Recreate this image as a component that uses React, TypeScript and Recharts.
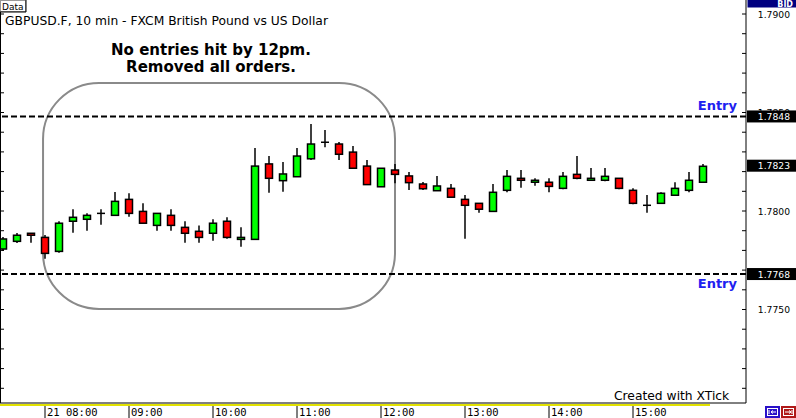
import React from 'react';
import { ComposedChart, Bar, XAxis, YAxis, ReferenceLine, ReferenceArea } from 'recharts';

// 10 minute candles, GBPUSD 21st
const TIMES = [
  '07:30', '07:40', '07:50', '08:00', '08:10', '08:20', '08:30', '08:40', '08:50',
  '09:00', '09:10', '09:20', '09:30', '09:40', '09:50',
  '10:00', '10:10', '10:20', '10:30', '10:40', '10:50',
  '11:00', '11:10', '11:20', '11:30', '11:40', '11:50',
  '12:00', '12:10', '12:20', '12:30', '12:40', '12:50',
  '13:00', '13:10', '13:20', '13:30', '13:40', '13:50',
  '14:00', '14:10', '14:20', '14:30', '14:40', '14:50',
  '15:00', '15:10', '15:20', '15:30', '15:40', '15:50',
];
const OPEN = [
  1.77807, 1.77846, 1.77887, 1.77866, 1.77795, 1.77948, 1.77958, 1.77988, 1.77978,
  1.78059, 1.77998, 1.77927, 1.77978, 1.77917, 1.77897,
  1.77887, 1.77948, 1.77856, 1.77856, 1.78239, 1.78154,
  1.78174, 1.78265, 1.78349, 1.7834, 1.78299, 1.78228,
  1.78123, 1.78208, 1.78178, 1.78137, 1.78103, 1.78115,
  1.78059, 1.78039, 1.77998, 1.78105, 1.78166, 1.78146,
  1.78146, 1.78115, 1.78186, 1.78156, 1.78156, 1.78166,
  1.78105, 1.78029, 1.78039, 1.7808, 1.78105, 1.78146,
];
const HIGH = [
  1.77868, 1.77888, 1.77887, 1.77878, 1.77948, 1.78009, 1.77988, 1.78009, 1.78096,
  1.7809, 1.78039, 1.77988, 1.78009, 1.77948, 1.77927,
  1.77958, 1.77968, 1.77917, 1.7832, 1.78279, 1.78249,
  1.7832, 1.78442, 1.78411, 1.7835, 1.7833, 1.78259,
  1.78217, 1.78239, 1.78198, 1.78147, 1.78178, 1.78137,
  1.78081, 1.78039, 1.78137, 1.78208, 1.78208, 1.78166,
  1.78166, 1.78198, 1.78279, 1.78218, 1.78218, 1.78166,
  1.78115, 1.78081, 1.78095, 1.78146, 1.78198, 1.78239,
];
const LOW = [
  1.77797, 1.77838, 1.77839, 1.77758, 1.77788, 1.7789, 1.779, 1.7793, 1.77978,
  1.77971, 1.77938, 1.779, 1.779, 1.77839, 1.77839,
  1.77849, 1.77859, 1.77819, 1.77856, 1.78093, 1.78098,
  1.78174, 1.78259, 1.78323, 1.78259, 1.78217, 1.78134,
  1.78123, 1.78141, 1.78107, 1.78107, 1.78103, 1.7807,
  1.77859, 1.77991, 1.77998, 1.78095, 1.78118, 1.78128,
  1.78095, 1.7811, 1.78161, 1.78156, 1.78151, 1.7811,
  1.78034, 1.77991, 1.78039, 1.7808, 1.78095, 1.78146,
];
const CLOSE = [
  1.77858, 1.77877, 1.77877, 1.77785, 1.77938, 1.77968, 1.77978, 1.77988, 1.78049,
  1.77988, 1.77938, 1.77988, 1.77927, 1.77887, 1.77866,
  1.77938, 1.77866, 1.77866, 1.78228, 1.78166, 1.78188,
  1.78279, 1.7834, 1.78349, 1.78288, 1.78217, 1.78134,
  1.78217, 1.78186, 1.78144, 1.78113, 1.78127, 1.7807,
  1.78029, 1.78009, 1.78095, 1.78176, 1.78156, 1.78156,
  1.78125, 1.78176, 1.78166, 1.78166, 1.78176, 1.78115,
  1.78039, 1.78029, 1.7809, 1.78115, 1.78156, 1.78227,
];

const HOUR_TICKS = [480, 540, 600, 660, 720, 780, 840, 900];
const HOUR_LABELS = ['21 08:00', '09:00', '10:00', '11:00', '12:00', '13:00', '14:00', '15:00'];

const PRICE_TICKS = [
  1.771, 1.772, 1.773, 1.774, 1.775, 1.776, 1.777, 1.778, 1.779, 1.78,
  1.781, 1.782, 1.783, 1.784, 1.785, 1.786, 1.787, 1.788, 1.789, 1.79,
];
const ENTRY_HIGH = 1.7848;
const ENTRY_LOW = 1.7768;
const LAST_PRICE = 1.7823;
const PRICE_TAGS = [ENTRY_HIGH, LAST_PRICE, ENTRY_LOW];

const toMinutes = (t: string) => {
  const [h, m] = t.split(':').map(Number);
  return h * 60 + m;
};

const candles = TIMES.map((t, i) => ({
  t: toMinutes(t),
  open: OPEN[i],
  high: HIGH[i],
  low: LOW[i],
  close: CLOSE[i],
}));

const W = 796;
const H = 418;
const AXIS_W = 50;
const AXIS_X = W - AXIS_W;
const UP = '#00ff00';
const DOWN = '#ff0000';
const ENTRY_BLUE = '#2020f0';

const Candle = (props: any) => {
  const { x, y, width, height, payload } = props;
  if (x == null || y == null) return null;
  const { open, close, high, low } = payload;
  const top = Math.min(y, y + height);
  const h = Math.abs(height);
  const k = h / (high - low);
  const cx = x + width / 2;
  const yO = top + (high - open) * k;
  const yC = top + (high - close) * k;
  const bodyTop = Math.min(yO, yC);
  const bodyH = Math.abs(yO - yC);
  const fill = close > open ? UP : DOWN;
  return (
    <g>
      <line x1={cx} x2={cx} y1={top} y2={top + h} stroke="#000" strokeWidth={1.5} />
      {bodyH < 0.5 ? (
        <line x1={cx - 4} x2={cx + 4} y1={yO} y2={yO} stroke="#000" strokeWidth={1.5} />
      ) : (
        <rect x={cx - 3.5} y={bodyTop} width={7} height={bodyH} fill={fill} stroke="#000" strokeWidth={1.5} />
      )}
    </g>
  );
};

const TimeTick = (props: any) => {
  const { x, y, payload } = props;
  const idx = HOUR_TICKS.indexOf(payload.value);
  return (
    <g>
      <line x1={x} x2={x} y1={y + 2} y2={H} stroke="#000" />
      <text x={x + 2} y={y + 13} fontSize={10.5} fontFamily="DejaVu Sans Mono" fill="#000">
        {HOUR_LABELS[idx]}
      </text>
    </g>
  );
};

const PriceTick = (props: any) => {
  const { y, payload } = props;
  const v: number = payload.value;
  if (PRICE_TAGS.includes(v)) {
    return (
      <g>
        <rect x={AXIS_X + 1} y={y - 6} width={AXIS_W} height={12} fill="#000" />
        <text x={790} y={y + 3.5} textAnchor="end" fontSize={9.2} fontFamily="DejaVu Sans" fill="#fff">
          {v.toFixed(4)}
        </text>
      </g>
    );
  }
  const labeled = Math.round(v * 10000) % 50 === 0;
  return (
    <g>
      <line x1={AXIS_X - 4} x2={AXIS_X} y1={y} y2={y} stroke="#000" />
      <line x1={0} x2={4} y1={y} y2={y} stroke="#000" />
      {labeled && (
        <text x={790} y={y + 3.5} textAnchor="end" fontSize={9.2} fontFamily="DejaVu Sans" fill="#000">
          {v.toFixed(4)}
        </text>
      )}
    </g>
  );
};

const entryLabel = (dy: number) => (p: any) => {
  const vb = p.viewBox;
  if (!vb) return null;
  return (
    <text
      x={vb.x + vb.width - 9}
      y={vb.y + dy}
      textAnchor="end"
      fill={ENTRY_BLUE}
      fontSize={13}
      fontWeight="bold"
      fontFamily="DejaVu Sans"
    >
      Entry
    </text>
  );
};

const RoundBox = (p: any) => (
  <rect x={p.x} y={p.y} width={p.width} height={p.height} rx={56} ry={56} fill="none" stroke="#8a8a8a" strokeWidth={2} />
);

export default function App() {
  return (
    <div style={{ position: 'absolute', left: 0, top: 0, width: W, height: H, background: '#fff' }}>
      <ComposedChart width={W} height={H} data={candles} margin={{ top: 0, right: 0, bottom: 0, left: 0 }}>
        <XAxis
          dataKey="t"
          type="number"
          domain={[447.857, 980.714]}
          allowDataOverflow
          ticks={HOUR_TICKS}
          interval={0}
          height={15}
          tickSize={0}
          tickMargin={0}
          tickLine={false}
          axisLine={{ stroke: '#000' }}
          tick={<TimeTick />}
        />
        <YAxis
          yAxisId="r"
          orientation="right"
          type="number"
          width={AXIS_W}
          domain={[1.770254, 1.790711]}
          allowDataOverflow
          ticks={[...PRICE_TICKS, ...PRICE_TAGS]}
          interval={0}
          tickSize={0}
          tickMargin={0}
          tickLine={false}
          axisLine={{ stroke: '#000' }}
          tick={<PriceTick />}
        />
        <Bar
          yAxisId="r"
          dataKey={(d: any) => [d.low, d.high]}
          barSize={8}
          shape={<Candle />}
          isAnimationActive={false}
        />
        <ReferenceLine yAxisId="r" y={ENTRY_HIGH} stroke="#000" strokeWidth={2} strokeDasharray="6 3" label={entryLabel(-6)} />
        <ReferenceLine yAxisId="r" y={ENTRY_LOW} stroke="#000" strokeWidth={2} strokeDasharray="6 3" label={entryLabel(14)} />
        <ReferenceArea yAxisId="r" x1={478.6} x2={730} y1={1.77503} y2={1.7865} shape={<RoundBox />} />
      </ComposedChart>
      <svg width={W} height={H} style={{ position: 'absolute', left: 0, top: 0, pointerEvents: 'none' }}>
        <line x1={0.5} x2={0.5} y1={0} y2={403} stroke="#000" />
        <rect x={0.5} y={0.5} width={25} height={11} fill="#fff" stroke="#999" />
        <line x1={26} x2={26} y1={0} y2={12} stroke="#000" />
        <line x1={0} x2={26} y1={12} y2={12} stroke="#000" />
        <text x={2} y={9.5} fontSize={9} fontFamily="DejaVu Sans" fill="#000">Data</text>
        <text x={5} y={25} fontSize={12.3} fontFamily="DejaVu Sans" fill="#000">
          GBPUSD.F, 10 min - FXCM British Pound vs US Dollar
        </text>
        <text x={211} y={55} textAnchor="middle" fontSize={15} fontWeight="bold" fontFamily="DejaVu Sans" fill="#000">
          No entries hit by 12pm.
        </text>
        <text x={211} y={72} textAnchor="middle" fontSize={15} fontWeight="bold" fontFamily="DejaVu Sans" fill="#000">
          Removed all orders.
        </text>
        <text x={614} y={400} fontSize={12.3} fontFamily="DejaVu Sans" fill="#000">Created with XTick</text>
        <rect x={0} y={404} width={710} height={2} fill="#e2e200" />
        <rect x={747.5} y={0} width={48.5} height={7.5} fill="#000080" />
        <text x={793} y={7} textAnchor="end" fontSize={8} fontWeight="bold" fontFamily="DejaVu Sans" fill="#fff">BID</text>
        <rect x={765} y={406} width={15} height={12} fill="#2a10c8" />
        <rect x={767.5} y={408.5} width={10} height={7} fill="none" stroke="#fff" />
        <path d="M769 410v4M776 412h-5M771 412l2-1.5M771 412l2 1.5" stroke="#fff" fill="none" />
        <rect x={781} y={406} width={15} height={12} fill="#b01818" />
        <rect x={783.5} y={408.5} width={10} height={7} fill="none" stroke="#fff" />
        <path d="M785 412h6M791 412l-2-1.5M791 412l-2 1.5M792 410v4" stroke="#fff" fill="none" />
      </svg>
    </div>
  );
}
